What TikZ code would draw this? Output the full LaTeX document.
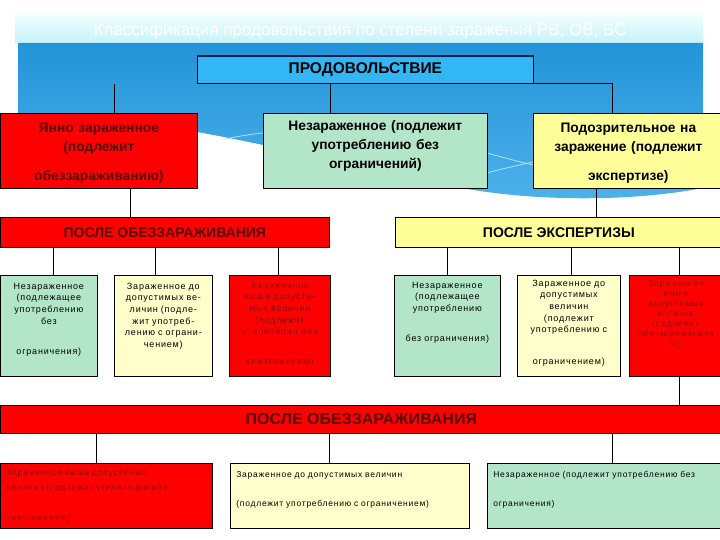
\documentclass[tikz,border=0pt]{standalone}
\usepackage{fontspec}
\setmainfont{Liberation Sans}
\newfontfamily\notefont[LetterSpace=9]{Liberation Sans}
\usetikzlibrary{positioning,calc}

\definecolor{bandtop}{HTML}{EFFEFE}
\definecolor{bandbot}{HTML}{C6F3F8}
\definecolor{skytop}{HTML}{2394D8}
\definecolor{skybot}{HTML}{4EB1EA}
\definecolor{prodblue}{HTML}{33B6F4}
\definecolor{edgenavy}{HTML}{141E50}
\definecolor{alarm}{HTML}{FF0000}
\definecolor{mint}{HTML}{B3E6C9}
\definecolor{lemon}{HTML}{FFFF99}
\definecolor{cream}{HTML}{FFFFCC}
\definecolor{darkred}{HTML}{5A0505}
\definecolor{notered}{HTML}{8A0A0A}
\definecolor{glint}{HTML}{A8E4F8}

\begin{document}
\begin{tikzpicture}[
  x=1pt, y=-1pt,
  box/.style={draw=black, line width=0.7pt, anchor=north west, inner sep=0pt, align=center},
  head/.style={font=\bfseries\fontsize{13.8}{19}\selectfont},
  bar/.style={box, font=\bfseries\fontsize{14}{16}\selectfont},
  note/.style={font=\notefont\fontsize{9}{11.6}\selectfont},
  wide/.style={box, align=left, inner xsep=6pt, font=\notefont\fontsize{8.5}{15}\selectfont},
  link/.style={draw=black, line width=0.7pt}
]
\useasboundingbox (0,0) rectangle (720,540);
\fill[white] (0,0) rectangle (720,540);

% Slide background
\shade[top color=bandtop, bottom color=bandbot] (15,15) rectangle (703,43);
\shade[top color=skytop, bottom color=skybot]
  (18,43) -- (703,43) -- (703,188)
  .. controls (630,202) and (545,200) .. (487,192)
  .. controls (400,180) and (300,150) .. (197,132) -- (18,120) -- cycle;
\draw[glint, line width=0.8pt] (225,139) .. controls (240,136) and (252,134) .. (263,133);
\draw[glint, line width=0.8pt] (487,153) .. controls (505,158) and (520,162) .. (533,165);
\draw[glint, line width=0.8pt] (487,173) .. controls (505,168) and (520,165) .. (533,162);

\node[font=\fontsize{17}{20}\selectfont, text=white] (title) at (360,31)
  {Классификация продовольствия по степени заражения РВ, ОВ, БС};

% Top level
\node[bar, font=\bfseries\fontsize{15.5}{18}\selectfont, fill=prodblue, minimum width=336pt, minimum height=27pt] (prod) at (197,56) {ПРОДОВОЛЬСТВИЕ};
\draw[edgenavy, line width=2pt] (prod.north west) -- (prod.north east);

\node[box, head, fill=alarm, text=darkred, text width=197pt, text height=19pt, text depth=56pt] (contam) at (0,113)
  {Явно зараженное\\(подлежит\\[10pt]обеззараживанию)};
\node[box, head, fill=mint, text width=224pt, text height=17pt, text depth=58pt] (neutral) at (263,113)
  {Незараженное (подлежит\\употреблению без\\ограничений)};
\node[box, head, fill=lemon, text width=190pt, text height=19pt, text depth=56pt] (suspect) at (533,113)
  {Подозрительное на\\заражение (подлежит\\[10pt]экспертизе)};

% Second level
\node[bar, fill=alarm, text=darkred, minimum width=329pt, minimum height=30pt] (disinf) at (0,217) {ПОСЛЕ ОБЕЗЗАРАЖИВАНИЯ};
\node[bar, fill=lemon, minimum width=327pt, minimum height=30pt] (expert) at (395,217) {ПОСЛЕ ЭКСПЕРТИЗЫ};

% Third level
\node[box, note, fill=mint, text width=97pt, text height=14pt, text depth=87pt] (clean1) at (0,275)
  {Незараженное\\(подлежащее\\употреблению\\без\\[19pt]ограничения)};
\node[box, note, fill=cream, text width=98pt, text height=14pt, text depth=87pt] (limit1) at (114,275)
  {Зараженное до\\допустимых ве-\\личин (подле-\\жит употреб-\\лению с ограни-\\чением)};
\node[box, note, fill=alarm, text=notered, text width=101pt, text height=13pt, text depth=88pt] (unsafe1) at (229,275)
  {Зараженное\\выше допусти-\\мых величин\\(подлежит\\утилизации или\\[18pt]уничтожению)};
\node[box, note, fill=mint, text width=106pt, text height=13pt, text depth=88pt] (clean2) at (394,275)
  {Незараженное\\(подлежащее\\употреблению\\[18pt]без ограничения)};
\node[box, note, fill=cream, text width=103pt, text height=11pt, text depth=90pt] (limit2) at (517,275)
  {Зараженное до\\допустимых\\величин\\(подлежит\\употреблению с\\[20pt]ограничением)};
\node[box, fill=alarm, text=notered, font=\notefont\fontsize{8.5}{10}\selectfont,
  text width=93pt, text height=11pt, text depth=90pt] (unsafe2) at (629,275)
  {Зараженное\\выше\\допустимых\\величин\\(подлежит\\обеззараживани\\ю)};

% Fourth level
\node[bar, font=\bfseries\fontsize{16}{18}\selectfont, fill=alarm, text=darkred, minimum width=722pt, minimum height=28pt] (disinf2) at (0,405) {ПОСЛЕ ОБЕЗЗАРАЖИВАНИЯ};

\node[wide, fill=alarm, text=notered, text width=200pt, text height=12pt, text depth=53pt] (burn) at (0,463)
  {Зараженное выше допустимых\\величин (подлежит утилизации или\\[15pt]уничтожению)};
\node[wide, fill=cream, text width=227pt, text height=14pt, text depth=51pt] (limit3) at (230,463)
  {Зараженное до допустимых величин\\[14pt](подлежит употреблению с ограничением)};
\node[wide, fill=mint, text width=240pt, text height=14pt, text depth=51pt] (clean3) at (487,463)
  {Незараженное (подлежит употреблению без\\[14pt]ограничения)};

% Connectors
\draw[link] ($(contam.north west)+(114,0)$) -- ($(contam.north west |- prod.south)+(114,0)$);
\draw[link] ($(neutral.north west)+(67,0)$) -- ($(neutral.north west |- prod.south)+(67,0)$);
\draw[link] (prod.south east) -| ($(suspect.north west)+(79,0)$);
\draw[link] ($(contam.south west)+(130,0)$) -- ($(contam.south west |- disinf.north)+(130,0)$);
\draw[link] ($(suspect.south west)+(63,0)$) -- ($(suspect.south west |- expert.north)+(63,0)$);
\foreach \n/\dx in {clean1/53, limit1/41, unsafe1/49}
  \draw[link] ($(\n.north west)+(\dx,0)$) -- ($(\n.north west |- disinf.south)+(\dx,0)$);
\foreach \n/\dx in {clean2/53, limit2/54, unsafe2/50}
  \draw[link] ($(\n.north west)+(\dx,0)$) -- ($(\n.north west |- expert.south)+(\dx,0)$);
\draw[link] ($(unsafe2.south west)+(50,0)$) -- ($(unsafe2.south west |- disinf2.north)+(50,0)$);
\foreach \n/\dx in {burn/96, limit3/99, clean3/125}
  \draw[link] ($(\n.north west)+(\dx,0)$) -- ($(\n.north west |- disinf2.south)+(\dx,0)$);
\end{tikzpicture}
\end{document}
